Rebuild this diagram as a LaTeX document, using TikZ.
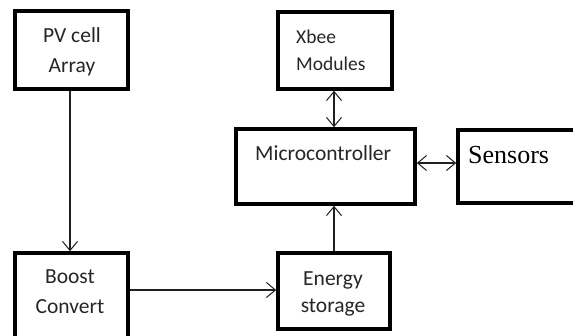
\documentclass[tikz,border=0pt]{standalone}
\usepackage{fontspec}
\setmainfont{Carlito}
\newfontfamily\timesf{Liberation Serif}
\usetikzlibrary{arrows.meta}
\definecolor{txt}{HTML}{262626}
\definecolor{ln}{HTML}{202020}
\begin{document}
\begin{tikzpicture}[x=1pt,y=-1pt,
  box/.style={draw=black,line width=3.6pt,inner sep=0pt,fill=white},
  lbl/.style={inner sep=0pt,text=txt,font=\fontsize{21.5}{30}\selectfont},
  arr/.style={draw=ln,line width=1.1pt,-{Straight Barb[length=9pt,width=15pt,line width=1pt]}},
  barr/.style={draw=ln,line width=1.1pt,{Straight Barb[length=9pt,width=15pt,line width=1pt]}-{Straight Barb[length=9pt,width=15pt,line width=1pt]}}]
\useasboundingbox (0,0) rectangle (573,335);
\clip (0,0) rectangle (573,335);
% boxes
\node[box,minimum width=113pt,minimum height=78pt] (pv) at (71.5,50) {};
\node[box,minimum width=114pt,minimum height=77pt] (xbee) at (335,50.5) {};
\node[box,minimum width=179pt,minimum height=75pt] (micro) at (325.5,166.5) {};
\node[box,minimum width=150pt,minimum height=73pt] (sens) at (533,166.5) {};
\node[box,minimum width=113pt,minimum height=94pt] (boost) at (71.5,300) {};
\node[box,minimum width=112pt,minimum height=76pt] (energy) at (334,291) {};
% texts
\node[lbl,anchor=base,align=center] (tpv) at (72,72) {PV cell\\Array};
\node[lbl,anchor=base west,align=left,font=\fontsize{19.5}{27}\selectfont] (txb) at (296,70) {Xbee\\Modules};
\node[lbl,anchor=base west] (tmc) at (255,160) {Microcontroller};
\node[lbl,anchor=base west,text=black,font=\timesf\fontsize{26}{30}\selectfont] (tse) at (468,163) {Sensors};
\node[lbl,anchor=base,align=center] (tbo) at (70,313) {Boost\\Convert};
\node[lbl,anchor=base,align=center,font=\fontsize{21.5}{27}\selectfont] (ten) at (333,312) {Energy\\storage};
% connectors
\draw[arr] ([xshift=-1.5pt]pv.south) -- ([xshift=-1.5pt]boost.north);
\draw[arr] (boost.east |- 0,290) -- (energy.west |- 0,290);
\draw[arr] (energy.north) -- (energy.north |- micro.south);
\draw[barr] (xbee.south -| energy.north) -- (micro.north -| energy.north);
\draw[barr] (micro.east |- 0,163) -- (sens.west |- 0,163);
\end{tikzpicture}
\end{document}
